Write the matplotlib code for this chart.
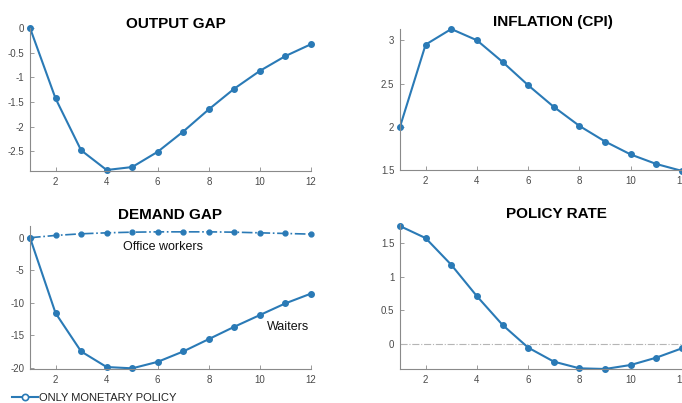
import matplotlib.pyplot as plt
from matplotlib.lines import Line2D

plt.rcParams['font.family'] = ['Liberation Sans', 'DejaVu Sans']

periods = list(range(1, 13))
output_gap = [0.0, -1.43, -2.48, -2.88, -2.82, -2.51, -2.10, -1.65, -1.23, -0.87, -0.57, -0.33]
inflation = [2.0, 2.95, 3.13, 3.0, 2.75, 2.48, 2.23, 2.01, 1.83, 1.68, 1.57, 1.49]
demand_office = [0.0, 0.35, 0.6, 0.75, 0.85, 0.9, 0.9, 0.9, 0.85, 0.75, 0.65, 0.55]
demand_waiters = [0.0, -11.6, -17.5, -19.9, -20.1, -19.1, -17.5, -15.6, -13.7, -11.9, -10.1, -8.6]
policy_rate = [1.76, 1.58, 1.18, 0.71, 0.28, -0.06, -0.27, -0.37, -0.38, -0.32, -0.21, -0.07]

BLUE = '#2a7ab6'
line_kw = dict(color=BLUE, lw=1.5, marker='o', ms=4, mfc=BLUE, mec=BLUE)

fig = plt.figure(figsize=(6.82, 4.03), dpi=100)

pos = {
    'og': [0.044, 0.5757, 0.412, 0.355],
    'inf': [0.5865, 0.578, 0.4135, 0.350],
    'dg': [0.044, 0.0836, 0.412, 0.3556],
    'pr': [0.5865, 0.0844, 0.4135, 0.3596],
}


def style(ax, yticks, ylabels):
    ax.set_xlim(1, 12)
    ax.set_xticks([2, 4, 6, 8, 10, 12])
    ax.set_yticks(yticks)
    ax.set_yticklabels(ylabels)
    for s in ['top', 'right']:
        ax.spines[s].set_visible(False)
    for s in ['left', 'bottom']:
        ax.spines[s].set_color('#8a8a8a')
        ax.spines[s].set_linewidth(0.8)
    ax.tick_params(direction='in', length=3, width=0.6, colors='#8a8a8a',
                   labelcolor='#4a4a4a', labelsize=7, pad=4)
    ax.set_facecolor('none')


ax = fig.add_axes(pos['og'])
ax.plot(periods, output_gap, **line_kw)
ax.set_ylim(-2.9, 0)
style(ax, [-2.5, -2, -1.5, -1, -0.5, 0], ['-2.5', '-2', '-1.5', '-1', '-0.5', '0'])

ax = fig.add_axes(pos['inf'])
ax.plot(periods, inflation, **line_kw)
ax.set_ylim(1.5, 3.13)
style(ax, [1.5, 2, 2.5, 3], ['1.5', '2', '2.5', '3'])

ax = fig.add_axes(pos['dg'])
ax.plot(periods, demand_waiters, **line_kw)
ax.plot(periods, demand_office, color=BLUE, lw=1.2, ls='-.', marker='o', ms=3.5)
ax.set_ylim(-20.25, 1.8)
style(ax, [-20, -15, -10, -5, 0], ['-20', '-15', '-10', '-5', '0'])
ax.text(4.63, -1.4, 'Office workers', fontsize=9, va='center', ha='left', color='#111111')
ax.text(10.26, -13.7, 'Waiters', fontsize=9, va='center', ha='left', color='#111111')

ax = fig.add_axes(pos['pr'])
ax.axhline(0, color='#b5b5b5', lw=0.8, ls='-.')
ax.plot(periods, policy_rate, **line_kw)
ax.set_ylim(-0.38, 1.79)
style(ax, [0, 0.5, 1, 1.5], ['0', '0.5', '1', '1.5'])

for ax in fig.axes:
    for ln in ax.lines:
        ln.set_clip_on(False)

title_kw = dict(fontsize=11, fontweight='bold', ha='center', va='center', color='black')
fig.text(0.258, 0.940, 'OUTPUT GAP', **title_kw)
fig.text(0.811, 0.945, 'INFLATION (CPI)', **title_kw)
fig.text(0.250, 0.467, 'DEMAND GAP', **title_kw)
fig.text(0.816, 0.469, 'POLICY RATE', **title_kw)

handle = Line2D([], [], color=BLUE, lw=1.5, marker='o', ms=4.5, mfc='white', mec=BLUE, mew=1.2)
fig.legend([handle], ['ONLY MONETARY POLICY'], loc='center left',
           bbox_to_anchor=(0.017, 0.013), frameon=False, fontsize=8,
           handlelength=2.4, handletextpad=0.05, borderaxespad=0, borderpad=0,
           labelcolor='#222222')

fig.savefig('out.png', dpi=100)
